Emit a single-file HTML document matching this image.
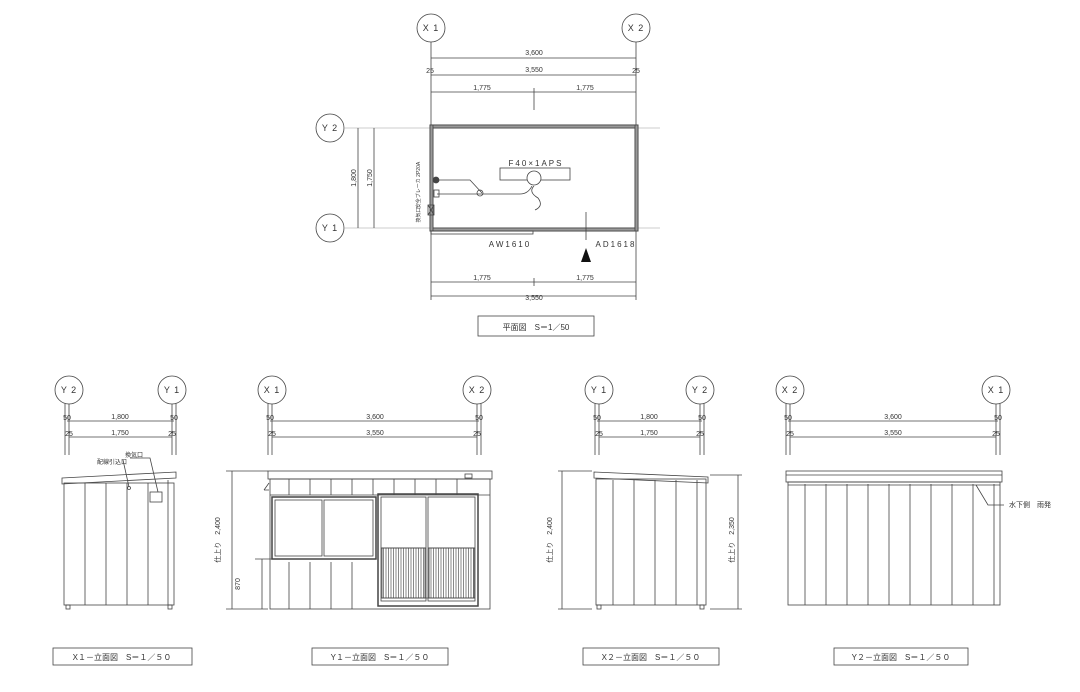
<!DOCTYPE html>
<html><head><meta charset="utf-8"><style>
body{margin:0;background:#fff;}
svg{display:block;}
text{font-family:"Liberation Sans","Noto Sans CJK JP",sans-serif;fill:#333;}
.t{font-size:7px;}
.c{font-size:9px;letter-spacing:1px;}
</style></head><body>
<svg width="1080" height="692" viewBox="0 0 1080 692" xmlns="http://www.w3.org/2000/svg">
<defs>
<pattern id="lv" width="2.5" height="10" patternUnits="userSpaceOnUse"><line x1="1" y1="0" x2="1" y2="10" stroke="#555" stroke-width="0.7"/></pattern>
</defs>
<g stroke="#444" stroke-width="0.8" fill="none">
<circle cx="431" cy="28" r="14"/><circle cx="636" cy="28" r="14"/>
<line x1="431" y1="42" x2="431" y2="300"/><line x1="636" y1="42" x2="636" y2="300"/>
<line x1="431" y1="58" x2="636" y2="58"/>
<line x1="431" y1="75" x2="636" y2="75"/>
<line x1="431" y1="92" x2="636" y2="92"/><line x1="534" y1="88" x2="534" y2="110"/>
<circle cx="330" cy="128" r="14"/><circle cx="330" cy="228" r="14"/>
<line x1="344" y1="128" x2="660" y2="128" stroke="#bbb"/><line x1="344" y1="228" x2="660" y2="228" stroke="#bbb"/>
<line x1="358" y1="128" x2="358" y2="228"/><line x1="374" y1="128" x2="374" y2="228"/>
<rect x="430" y="125" width="208" height="106" stroke-width="1"/>
<rect x="433" y="128" width="202" height="100" stroke-width="0.8"/>
<rect x="430" y="125" width="208" height="3" fill="#999"/>
<rect x="430" y="228" width="208" height="3" fill="#999"/>
<rect x="430" y="125" width="3" height="106" fill="#999"/>
<rect x="635" y="125" width="3" height="106" fill="#999"/>
<rect x="431" y="231" width="102" height="3"/>
<rect x="500" y="168" width="70" height="12"/>
<circle cx="534" cy="178" r="7" fill="#fff"/>
<path d="M437 180 H470 L482 193 M437 194 H520 Q528 194 532 186"/>
<path d="M534 186 Q528 192 538 198 Q544 206 535 210"/>
<circle cx="436" cy="180" r="3" fill="#444"/>
<rect x="434" y="190" width="5" height="7"/>
<circle cx="480" cy="193" r="3"/>
<rect x="428" y="205" width="6" height="10"/><path d="M428 205 L434 215 M434 205 L428 215"/>
<line x1="586" y1="212" x2="586" y2="240"/>
<line x1="431" y1="282" x2="636" y2="282"/><line x1="534" y1="278" x2="534" y2="286"/>
<line x1="431" y1="296" x2="636" y2="296"/>
<rect x="478" y="316" width="116" height="20"/>
</g>
<path d="M581 262 L591 262 L586 248 Z" fill="#111"/>
<g class="c" text-anchor="middle">
<text x="431" y="31">X 1</text><text x="636" y="31">X 2</text>
<text x="330" y="131">Y 2</text><text x="330" y="231">Y 1</text>
</g>
<g class="t" text-anchor="middle">
<text x="534" y="55">3,600</text><text x="534" y="72">3,550</text>
<text x="482" y="90">1,775</text><text x="585" y="90">1,775</text>
<text x="430" y="73">25</text><text x="636" y="73">25</text>
<text x="482" y="280">1,775</text><text x="585" y="280">1,775</text>
<text x="534" y="300">3,550</text>
<text x="356" y="178" transform="rotate(-90 356 178)">1,800</text>
<text x="372" y="178" transform="rotate(-90 372 178)">1,750</text>
<text x="536" y="166" style="font-size:8px;letter-spacing:2px">F40×1APS</text>
<text x="510" y="247" style="font-size:8px;letter-spacing:2px">AW1610</text>
<text x="616" y="247" style="font-size:8px;letter-spacing:2px">AD1618</text>
<text x="536" y="330" style="font-size:8px">平面図　S＝1／50</text>
<text x="420" y="185" transform="rotate(-90 420 185)" style="font-size:5px">安全ブレーカ 2P20A</text>
<text x="420" y="215" transform="rotate(-90 420 215)" style="font-size:5px">換気口</text>
</g>

<g stroke="#444" stroke-width="0.8" fill="none">
<circle cx="69" cy="390" r="14"/><circle cx="172" cy="390" r="14"/>
<line x1="65" y1="404" x2="65" y2="455"/><line x1="69" y1="404" x2="69" y2="455"/>
<line x1="172" y1="404" x2="172" y2="455"/><line x1="176" y1="404" x2="176" y2="455"/>
<line x1="67" y1="421" x2="174" y2="421"/><line x1="69" y1="437" x2="172" y2="437"/>
<path d="M62 478 L176 472 L176 478 L62 484 Z"/>
<rect x="64" y="483" width="110" height="122"/>
<line x1="85" y1="483" x2="85" y2="605"/><line x1="106" y1="483" x2="106" y2="605"/><line x1="127" y1="483" x2="127" y2="605"/><line x1="148" y1="483" x2="148" y2="605"/><line x1="168" y1="480" x2="168" y2="605"/>
<rect x="150" y="492" width="12" height="10"/><circle cx="129" cy="488" r="1.5"/>
<path d="M123 460 L129 487 M130 458 L150 458 L158 492"/>
<rect x="66" y="605" width="4" height="4"/><rect x="168" y="605" width="4" height="4"/>
<circle cx="272" cy="390" r="14"/><circle cx="477" cy="390" r="14"/>
<line x1="268" y1="404" x2="268" y2="455"/><line x1="272" y1="404" x2="272" y2="455"/>
<line x1="477" y1="404" x2="477" y2="455"/><line x1="481" y1="404" x2="481" y2="455"/>
<line x1="270" y1="421" x2="479" y2="421"/><line x1="272" y1="437" x2="477" y2="437"/>
<rect x="268" y="471" width="224" height="8"/>
<rect x="270" y="479" width="220" height="130"/>
<line x1="270" y1="495" x2="490" y2="495"/>
<line x1="289" y1="479" x2="289" y2="495"/><line x1="310" y1="479" x2="310" y2="495"/><line x1="331" y1="479" x2="331" y2="495"/><line x1="352" y1="479" x2="352" y2="495"/><line x1="373" y1="479" x2="373" y2="495"/><line x1="394" y1="479" x2="394" y2="495"/><line x1="415" y1="479" x2="415" y2="495"/><line x1="436" y1="479" x2="436" y2="495"/><line x1="457" y1="479" x2="457" y2="495"/>
<rect x="272" y="497" width="104" height="62" stroke-width="1.5"/>
<rect x="275" y="500" width="47" height="56"/><rect x="324" y="500" width="49" height="56"/>
<line x1="289" y1="562" x2="289" y2="609"/><line x1="310" y1="562" x2="310" y2="609"/><line x1="331" y1="562" x2="331" y2="609"/><line x1="352" y1="562" x2="352" y2="609"/>
<rect x="378" y="494" width="100" height="112" stroke-width="1.5"/>
<rect x="381" y="497" width="45" height="104"/><rect x="428" y="497" width="47" height="104"/>
<rect x="382" y="548" width="43" height="50" fill="url(#lv)"/>
<rect x="429" y="548" width="45" height="50" fill="url(#lv)"/>
<line x1="381" y1="548" x2="426" y2="548"/><line x1="428" y1="548" x2="475" y2="548"/>
<line x1="381" y1="598" x2="475" y2="598"/>
<path d="M264 490 L269 483 M264 490 L269 490"/>
<rect x="465" y="474" width="7" height="4"/>
<line x1="226" y1="471" x2="268" y2="471"/><line x1="226" y1="609" x2="268" y2="609"/>
<line x1="232" y1="471" x2="232" y2="609"/>
<line x1="255" y1="559" x2="272" y2="559"/><line x1="262" y1="559" x2="262" y2="609"/>
<circle cx="599" cy="390" r="14"/><circle cx="700" cy="390" r="14"/>
<line x1="595" y1="404" x2="595" y2="455"/><line x1="599" y1="404" x2="599" y2="455"/>
<line x1="700" y1="404" x2="700" y2="455"/><line x1="704" y1="404" x2="704" y2="455"/>
<line x1="597" y1="421" x2="702" y2="421"/><line x1="599" y1="437" x2="700" y2="437"/>
<path d="M594 472 L708 477 L708 483 L594 478 Z"/>
<rect x="596" y="479" width="110" height="126"/>
<line x1="613" y1="480" x2="613" y2="605"/><line x1="634" y1="480" x2="634" y2="605"/><line x1="655" y1="480" x2="655" y2="605"/><line x1="676" y1="480" x2="676" y2="605"/><line x1="697" y1="480" x2="697" y2="605"/>
<rect x="597" y="605" width="4" height="4"/><rect x="700" y="605" width="4" height="4"/>
<line x1="558" y1="471" x2="592" y2="471"/><line x1="558" y1="609" x2="592" y2="609"/><line x1="562" y1="471" x2="562" y2="609"/>
<line x1="710" y1="475" x2="742" y2="475"/><line x1="710" y1="609" x2="742" y2="609"/><line x1="738" y1="475" x2="738" y2="609"/>
<circle cx="790" cy="390" r="14"/><circle cx="996" cy="390" r="14"/>
<line x1="786" y1="404" x2="786" y2="455"/><line x1="790" y1="404" x2="790" y2="455"/>
<line x1="996" y1="404" x2="996" y2="455"/><line x1="1000" y1="404" x2="1000" y2="455"/>
<line x1="788" y1="421" x2="998" y2="421"/><line x1="790" y1="437" x2="996" y2="437"/>
<rect x="786" y="471" width="216" height="11"/>
<line x1="786" y1="475" x2="1002" y2="475"/>
<rect x="788" y="482" width="212" height="123"/>
<line x1="805" y1="484" x2="805" y2="605"/><line x1="826" y1="484" x2="826" y2="605"/><line x1="847" y1="484" x2="847" y2="605"/><line x1="868" y1="484" x2="868" y2="605"/><line x1="889" y1="484" x2="889" y2="605"/><line x1="910" y1="484" x2="910" y2="605"/><line x1="931" y1="484" x2="931" y2="605"/><line x1="952" y1="484" x2="952" y2="605"/><line x1="973" y1="484" x2="973" y2="605"/><line x1="994" y1="484" x2="994" y2="605"/>
<line x1="788" y1="485" x2="1000" y2="485"/>
<path d="M976 485 L988 505 L1004 505"/>
<rect x="53" y="648" width="139" height="17"/>
<rect x="312" y="648" width="136" height="17"/>
<rect x="583" y="648" width="136" height="17"/>
<rect x="834" y="648" width="134" height="17"/>
</g>
<g class="c" text-anchor="middle">
<text x="69" y="393">Y 2</text><text x="172" y="393">Y 1</text>
<text x="272" y="393">X 1</text><text x="477" y="393">X 2</text>
<text x="599" y="393">Y 1</text><text x="700" y="393">Y 2</text>
<text x="790" y="393">X 2</text><text x="996" y="393">X 1</text>
</g>
<g class="t" text-anchor="middle">
<text x="67" y="420">50</text><text x="174" y="420">50</text><text x="120" y="419">1,800</text>
<text x="69" y="436">25</text><text x="172" y="436">25</text><text x="120" y="435">1,750</text>
<text x="270" y="420">50</text><text x="479" y="420">50</text><text x="375" y="419">3,600</text>
<text x="272" y="436">25</text><text x="477" y="436">25</text><text x="375" y="435">3,550</text>
<text x="597" y="420">50</text><text x="702" y="420">50</text><text x="649" y="419">1,800</text>
<text x="599" y="436">25</text><text x="700" y="436">25</text><text x="649" y="435">1,750</text>
<text x="788" y="420">50</text><text x="998" y="420">50</text><text x="893" y="419">3,600</text>
<text x="790" y="436">25</text><text x="996" y="436">25</text><text x="893" y="435">3,550</text>
<text x="112" y="464" style="font-size:6px">配線引込口</text>
<text x="134" y="457" style="font-size:6px">換気口</text>
<text x="220" y="540" transform="rotate(-90 220 540)">仕上り　2,400</text>
<text x="240" y="584" transform="rotate(-90 240 584)">870</text>
<text x="552" y="540" transform="rotate(-90 552 540)">仕上り　2,400</text>
<text x="734" y="540" transform="rotate(-90 734 540)">仕上り　2,350</text>
<text x="1030" y="507">水下側　雨発</text>
<text x="122" y="660" style="font-size:8px">X１－立面図　S＝１／５０</text>
<text x="380" y="660" style="font-size:8px">Y１－立面図　S＝１／５０</text>
<text x="651" y="660" style="font-size:8px">X２－立面図　S＝１／５０</text>
<text x="901" y="660" style="font-size:8px">Y２－立面図　S＝１／５０</text>
</g>
</svg>
</body></html>
